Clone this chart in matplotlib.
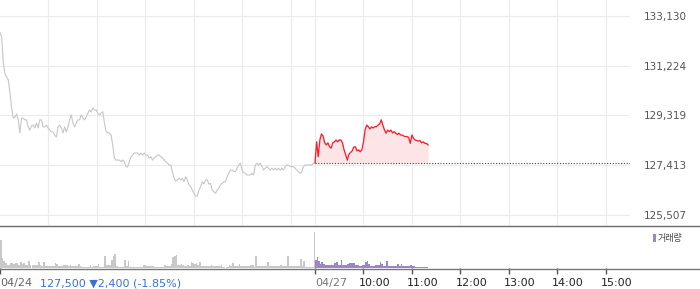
import numpy as np
import matplotlib
matplotlib.use("Agg")
import matplotlib.pyplot as plt
from matplotlib.lines import Line2D
from matplotlib.patches import Rectangle
from matplotlib.transforms import ScaledTranslation

# ---------------- data ----------------
day1_price = [
    132490, 132330, 131330, 130910, 130800, 130680, 130180, 129610, 129220, 129260,
    129380, 129150, 128650, 129220, 129220, 129150, 129150, 128880, 128760, 128920,
    128950, 128840, 129030, 128840, 129150, 129150, 128880, 128880, 128950, 128840,
    128760, 128690, 128690, 128570, 128490, 128880, 128950, 128840, 128650, 128880,
    128690, 128880, 129150, 129340, 129030, 128880, 129030, 129150, 129150, 129340,
    129220, 129150, 129260, 129410, 129530, 129450, 129610, 129530, 129530, 129410,
    129340, 129410, 129460, 129030, 128700, 128650, 128650, 128570, 128190, 127690,
    127610, 127610, 127610, 127550, 127610, 127550, 127350, 127350, 127550, 127740,
    127800, 127880, 127880, 127880, 127800, 127880, 127800, 127880, 127800, 127800,
    127690, 127740, 127610, 127690, 127740, 127800, 127800, 127740, 127690, 127610,
    127550, 127490, 127420, 127420, 127170, 126910, 126810, 126850, 126910, 126850,
    126910, 126780, 126970, 126850, 126660, 126590, 126460, 126340, 126230, 126230,
    126460, 126590, 126780, 126690, 126850, 126850, 126690, 126720, 126460, 126400,
    126340, 126460, 126530, 126660, 126720, 126780, 126780, 126970, 127100, 127230,
    127230, 127170, 127170, 127300, 127420, 127490, 127230, 127130, 127100, 127040,
    127040, 127040, 127100, 127040, 127420, 127490, 127420, 127490, 127360, 127230,
    127300, 127360, 127300, 127230, 127300, 127230, 127300, 127230, 127300, 127230,
    127300, 127230, 127360, 127420, 127420, 127360, 127360, 127360, 127300, 127230,
    127170, 127100, 127170, 127360, 127420, 127420, 127420, 127420, 127420, 127490,
    127490,
]

day2_price = [
    127500, 128310, 127740, 128380, 128610, 128530, 128270, 128190, 128270, 128120,
    128070, 128270, 128310, 128380, 128310, 128380, 128380, 128270, 128000, 127810,
    127610, 127840, 127900, 127960, 128110, 128120, 127960, 128000, 127930, 128000,
    128300, 128760, 128950, 128890, 128800, 128880, 128840, 128890, 128890, 128950,
    128990, 129150, 128950, 128760, 128640, 128760, 128700, 128760, 128650, 128700,
    128640, 128590, 128640, 128570, 128570, 128530, 128510, 128510, 128480, 128250,
    128570, 128440, 128380, 128360, 128340, 128360, 128270, 128310, 128250, 128250,
    128190,
]

base_price = 127500

day1_volume = [
    2800, 1000, 700, 500, 300, 300, 500, 500, 400, 500,
    500, 300, 650, 400, 500, 300, 300, 700, 300, 270,
    300, 300, 300, 650, 300, 250, 600, 250, 200, 200,
    200, 200, 200, 500, 400, 200, 200, 200, 300, 300,
    300, 250, 300, 200, 200, 200, 200, 450, 170, 150,
    150, 150, 150, 150, 330, 150, 200, 200, 200, 400,
    150, 150, 150, 1230, 330, 330, 300, 830, 1170, 1400,
    200, 150, 150, 150, 150, 830, 200, 670, 100, 100,
    100, 100, 100, 100, 100, 150, 330, 330, 230, 230,
    230, 230, 230, 100, 100, 100, 100, 100, 100, 330,
    230, 230, 230, 400, 1070, 1170, 1330, 330, 330, 400,
    330, 200, 200, 330, 200, 600, 530, 400, 500, 270,
    600, 230, 230, 230, 230, 230, 230, 330, 230, 230,
    230, 230, 230, 330, 100, 100, 100, 100, 330, 230,
    500, 230, 230, 230, 400, 170, 170, 170, 170, 170,
    170, 330, 330, 100, 1200, 170, 170, 170, 170, 170,
    170, 600, 170, 170, 170, 170, 170, 230, 170, 330,
    170, 170, 170, 1200, 170, 170, 170, 170, 170, 170,
    230, 950, 230, 670, 130, 130, 130, 130, 130, 130,
]

open_auction_volume = 3600

day2_volume = [
    830, 1100, 670, 400, 570, 400, 330, 330, 330, 270,
    270, 330, 500, 570, 270, 270, 830, 330, 330, 330,
    400, 500, 500, 500, 500, 270, 270, 170, 170, 330,
    330, 570, 670, 400, 230, 230, 230, 270, 270, 300,
    600, 400, 230, 230, 670, 170, 170, 170, 170, 170,
    170, 400, 170, 400, 170, 170, 170, 170, 170, 330,
    230, 170, 130, 130, 130, 130, 130, 130, 130, 130,
]

y_ticks = [125507, 127413, 129319, 131224, 133130]
grid_minutes = [60, 120, 180, 240, 300, 360, 390, 450, 510, 570, 630, 690, 750]
x_tick_minutes = [0, 390, 450, 510, 570, 630, 690, 750]
x_tick_labels = ["04/24", "04/27", "10:00", "11:00", "12:00", "13:00", "14:00", "15:00"]
summary_text = "127,500 \u25bc2,400 (-1.85%)"
legend_label = "거래량"

# ---------------- layout ----------------
W, H = 700, 289
fig = plt.figure(figsize=(W / 100, H / 100), dpi=100)


def px_axes(x0, y0, x1, y1):
    return fig.add_axes([x0 / W, 1 - y1 / H, (x1 - x0) / W, (y1 - y0) / H])


ax = px_axes(0, 0, 630, 225)
axv = px_axes(0, 228, 630, 268)

grid_c = "#ebebeb"
gray_line = "#c6c6ca"
red = "#f5222d"
pink = "#fde5e7"
purple = "#9a86c9"
vol_gray = "#c8c8c8"

# ---------------- price panel ----------------
t1 = np.linspace(0, 390, len(day1_price))
t2 = 390 + 2 * np.arange(len(day2_price))

ax.set_xlim(0, 780)
ax.set_ylim(125123, 133743)
for g in grid_minutes:
    ax.axvline(g, color=grid_c, lw=0.8, zorder=0)
for yt in y_ticks:
    ax.axhline(yt, color=grid_c, lw=0.8, zorder=0)

ax.fill_between(t2, day2_price, base_price, color=pink, lw=0, zorder=1)
ax.plot(t1, day1_price, color=gray_line, lw=0.8, zorder=2)
ax.plot(t2, day2_price, color=red, lw=0.95, zorder=3)
ax.hlines(base_price, 390, 780, colors="#444444", linestyles=(0, (1, 1.5)), lw=0.8, zorder=3)

ax.set_xticks([])
ax.set_yticks(y_ticks)
ax.set_yticklabels([f"{v:,}" for v in y_ticks])
ax.yaxis.tick_right()
ax.tick_params(axis="y", length=0, pad=10, labelsize=7.5, labelcolor="#555555")
for s in ax.spines.values():
    s.set_visible(False)

# ---------------- volume panel ----------------
tv1 = np.linspace(0, 388, len(day1_volume))
tv2 = 390 + 2 * np.arange(len(day2_volume))
axv.set_xlim(0, 780)
axv.set_ylim(0, 4000)
axv.bar(tv1, day1_volume, width=388 / len(day1_volume), align="edge", color=vol_gray, lw=0)
axv.bar([388.8], [open_auction_volume], width=1.2, align="edge", color=vol_gray, lw=0)
axv.bar(tv2, day2_volume, width=2, align="edge", color=purple, lw=0)

axv.set_yticks([])
axv.set_xticks(x_tick_minutes)
axv.set_xticklabels(x_tick_labels)
axv.tick_params(axis="x", direction="out", length=4, width=1, color="#555555",
                labelsize=8, labelcolor="#222222", pad=3)
labs = axv.get_xticklabels()
for i, lab in enumerate(labs):
    lab.set_ha("left")
    if i >= 2:
        lab.set_transform(lab.get_transform() + ScaledTranslation(-5 / 100, 0, fig.dpi_scale_trans))
labs[0].set_color("#666666")
labs[1].set_color("#777777")
for s in axv.spines.values():
    s.set_visible(False)

# full-width separator lines
fig.add_artist(Line2D([0, 1], [1 - 225.5 / H] * 2, color="#6a6a6a", lw=1.0, transform=fig.transFigure))
fig.add_artist(Line2D([0, 1], [1 - 268.5 / H] * 2, color="#777777", lw=1.0, transform=fig.transFigure))

# summary text
fig.text(39.5 / W, 1 - 283 / H, summary_text, color="#3a6fd8", fontsize=8, va="center", ha="left")

# legend
fig.add_artist(Rectangle((653 / W, 1 - 242 / H), 3 / W, 8 / H, transform=fig.transFigure,
                         color=purple, lw=0))
fig.text(658 / W, 1 - 238.5 / H, legend_label, fontsize=6.5, color="#444444", va="center", ha="left",
         family=["Noto Sans CJK KR", "DejaVu Sans"])

fig.savefig("out.png", dpi=100)
